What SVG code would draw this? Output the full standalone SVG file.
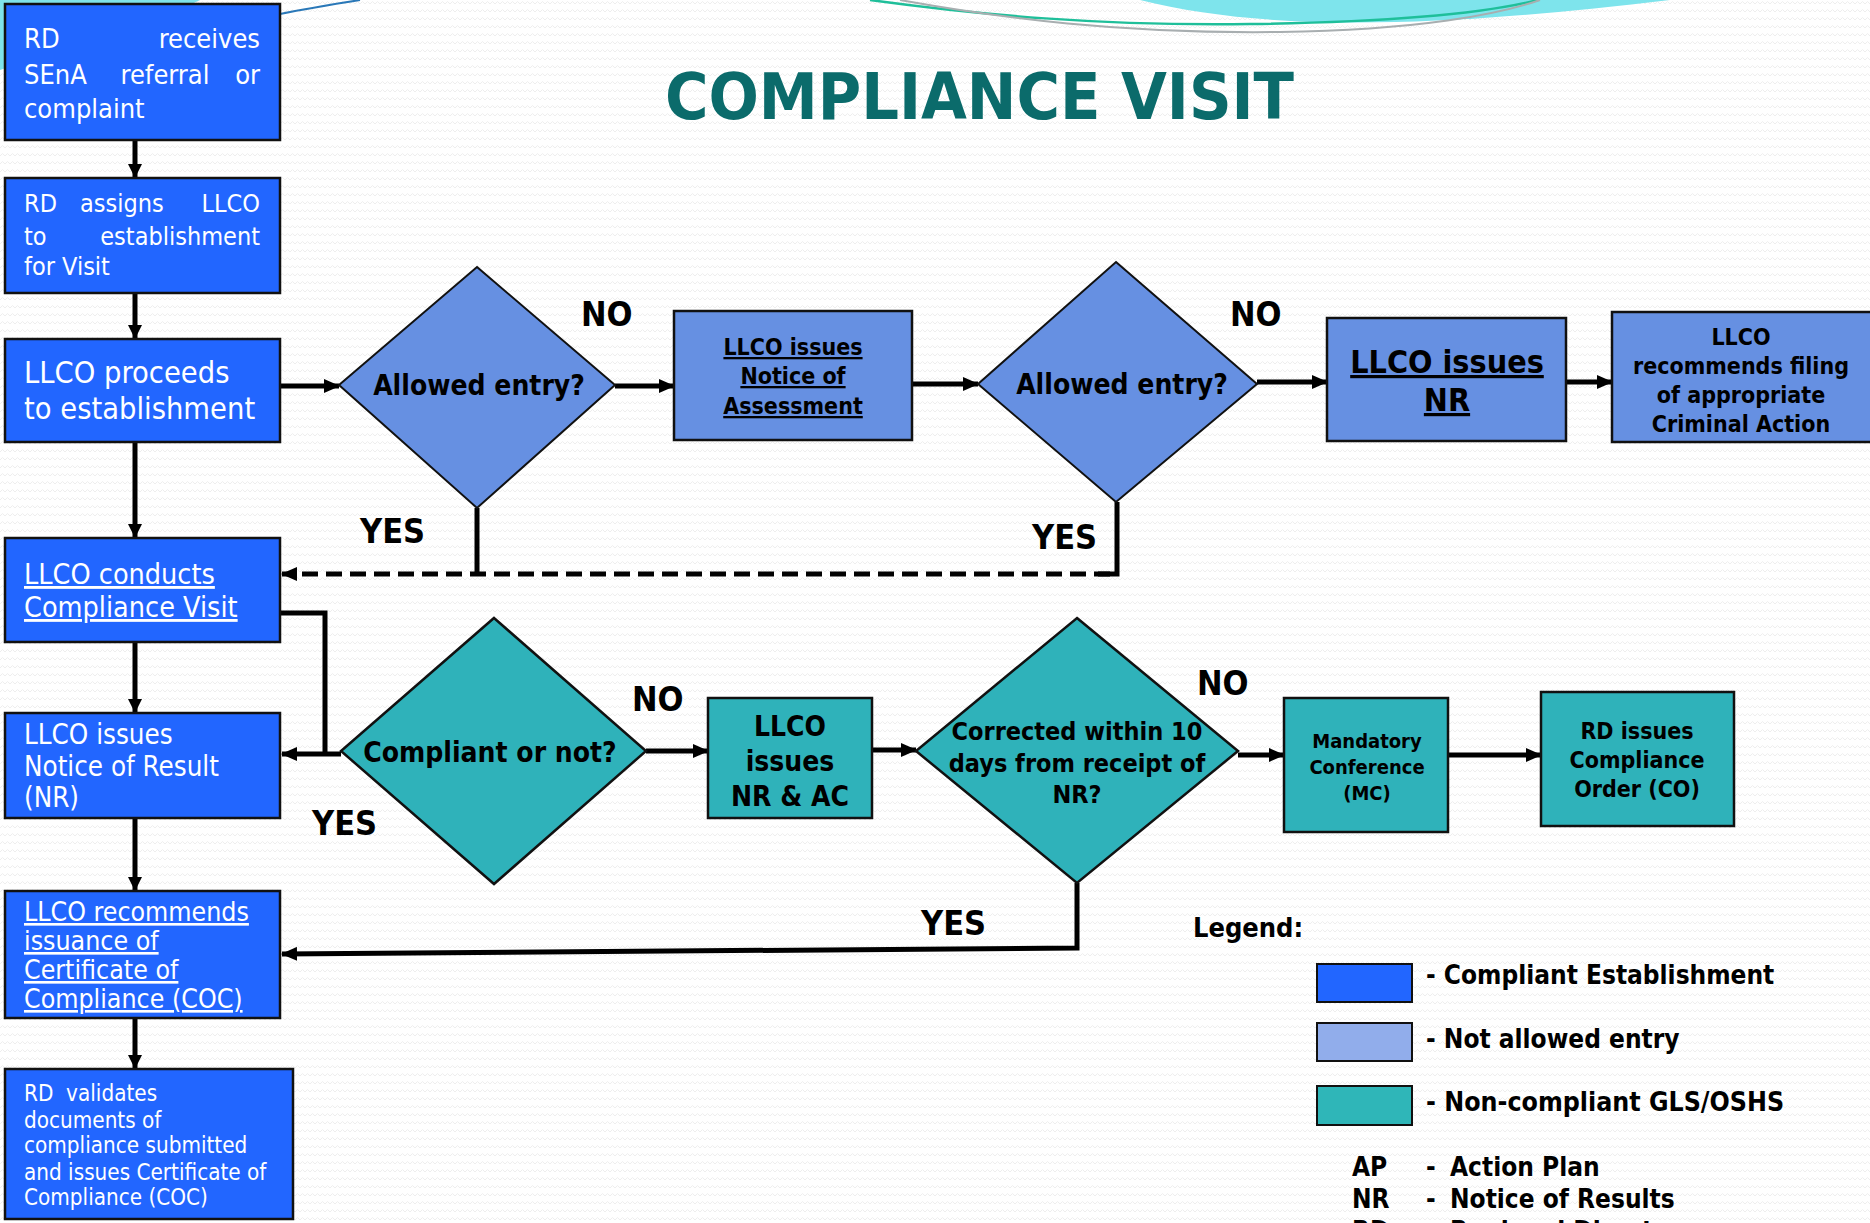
<svg xmlns="http://www.w3.org/2000/svg" width="1870" height="1223" viewBox="0 0 1870 1223">
<defs>
<pattern id="bgz" width="10" height="8" patternUnits="userSpaceOnUse">
<path d="M0,4 L2.5,1.5 L5,4 L7.5,1.5 L10,4" fill="none" stroke="#eeeeee" stroke-width="1"/>
</pattern>
<marker id="ah" markerWidth="16" markerHeight="14" refX="15" refY="7" orient="auto" markerUnits="userSpaceOnUse">
<path d="M0,0 L16,7 L0,14 z" fill="#000"/>
</marker>
<marker id="ahs" markerWidth="14" markerHeight="14" refX="13" refY="7" orient="auto" markerUnits="userSpaceOnUse">
<path d="M0,0 L14,7 L0,14 z" fill="#000"/>
</marker>
</defs>
<style>
.t{font-family:"Liberation Sans Narrow","DejaVu Sans Condensed","Liberation Sans",sans-serif;}
.w{fill:#fff;}
.k{fill:#000;}
.b{font-weight:bold;}
.u{text-decoration:underline;}
.mid{text-anchor:middle;}
.end{text-anchor:end;}
.blue{fill:#2266ff;stroke:#111;stroke-width:2.5;}
.na{fill:#6690e2;stroke:#111;stroke-width:2.5;}
.na2{fill:#6690e2;stroke:#111;stroke-width:2;}
.tl{fill:#2fb2ba;stroke:#111;stroke-width:2.5;}
.c{fill:none;stroke:#000;stroke-width:5;}
.lab{font-size:34px;font-weight:bold;}
</style>
<rect width="1870" height="1223" fill="#fff"/>
<rect width="1870" height="1223" fill="url(#bgz)"/>
<g id="decor">
<path d="M0,0 L200,0 C150,25 60,50 0,70 Z" fill="#7fe3ea"/>
<path d="M1140,0 C1260,30 1420,30 1670,0 Z" fill="#7ee4ec"/>
<path d="M870,0 C980,15 1100,26 1250,24 C1400,22 1490,12 1538,0" fill="none" stroke="#1fbf9a" stroke-width="2.5"/>
<path d="M900,0 C1000,18 1120,34 1280,32 C1420,30 1500,14 1540,0" fill="none" stroke="#a8aeb0" stroke-width="2"/>
<path d="M280,14 C310,8 335,4 360,0" fill="none" stroke="#2a78b8" stroke-width="2"/>
</g>
<text class="t b" x="665" y="119" font-size="64" fill="#0b6b6b" textLength="629" lengthAdjust="spacingAndGlyphs">COMPLIANCE VISIT</text>

<g id="connectors">
<line class="c" x1="135" y1="140" x2="135" y2="177" marker-end="url(#ahs)"/>
<line class="c" x1="135" y1="293" x2="135" y2="338" marker-end="url(#ahs)"/>
<line class="c" x1="135" y1="442" x2="135" y2="537" marker-end="url(#ahs)"/>
<line class="c" x1="135" y1="642" x2="135" y2="712" marker-end="url(#ahs)"/>
<line class="c" x1="135" y1="818" x2="135" y2="890" marker-end="url(#ahs)"/>
<line class="c" x1="135" y1="1018" x2="135" y2="1068" marker-end="url(#ahs)"/>
<line class="c" x1="280" y1="386" x2="339" y2="386" marker-end="url(#ah)"/>
<line class="c" x1="615" y1="386" x2="674" y2="386" marker-end="url(#ah)"/>
<line class="c" x1="912" y1="384" x2="978" y2="384" marker-end="url(#ah)"/>
<line class="c" x1="1257" y1="382" x2="1327" y2="382" marker-end="url(#ah)"/>
<line class="c" x1="1566" y1="382" x2="1612" y2="382" marker-end="url(#ah)"/>
<path class="c" d="M477,508 L477,574"/>
<path class="c" d="M1117,502 L1117,574 L1098,574"/>
<line class="c" x1="1110" y1="574" x2="282" y2="574" stroke-dasharray="16,8" marker-end="url(#ah)"/>
<path class="c" d="M280,613 L325,613 L325,754"/>
<line class="c" x1="341" y1="754" x2="282" y2="754" marker-end="url(#ah)"/>
<line class="c" x1="646" y1="751" x2="708" y2="751" marker-end="url(#ah)"/>
<line class="c" x1="872" y1="750" x2="916" y2="750" marker-end="url(#ah)"/>
<line class="c" x1="1238" y1="755" x2="1284" y2="755" marker-end="url(#ah)"/>
<line class="c" x1="1448" y1="755" x2="1541" y2="755" marker-end="url(#ah)"/>
<path class="c" d="M1077,883 L1077,948 L282,954" marker-end="url(#ah)"/>
</g>

<g id="n1"><rect class="blue" x="5" y="4" width="275" height="136"/>
<text class="t w" font-size="27"><tspan x="24" y="48">RD</tspan><tspan x="260" y="48" text-anchor="end">receives</tspan></text>
<text class="t w" font-size="27"><tspan x="24" y="84">SEnA</tspan><tspan x="165" y="84" text-anchor="middle">referral</tspan><tspan x="260" y="84" text-anchor="end">or</tspan></text>
<text class="t w" font-size="27" x="24" y="118">complaint</text></g>

<g id="n2"><rect class="blue" x="5" y="178" width="275" height="115"/>
<text class="t w" font-size="25"><tspan x="24" y="212">RD</tspan><tspan x="80" y="212">assigns</tspan><tspan x="260" y="212" text-anchor="end">LLCO</tspan></text>
<text class="t w" font-size="25"><tspan x="24" y="245">to</tspan><tspan x="260" y="245" text-anchor="end">establishment</tspan></text>
<text class="t w" font-size="25" x="24" y="275">for Visit</text></g>

<g id="n3"><rect class="blue" x="5" y="339" width="275" height="103"/>
<text class="t w" font-size="30.5" x="24" y="383">LLCO proceeds</text>
<text class="t w" font-size="30.5" x="24" y="419">to establishment</text></g>

<g id="n4"><rect class="blue" x="5" y="538" width="275" height="104"/>
<text class="t w u" font-size="28.5" x="24" y="584">LLCO conducts</text>
<text class="t w u" font-size="28.5" x="24" y="617">Compliance Visit</text></g>

<g id="n5"><rect class="blue" x="5" y="713" width="275" height="105"/>
<text class="t w" font-size="27.5" x="24" y="744">LLCO issues</text>
<text class="t w" font-size="27.5" x="24" y="776">Notice of Result</text>
<text class="t w" font-size="27.5" x="24" y="807">(NR)</text></g>

<g id="n6"><rect class="blue" x="5" y="891" width="275" height="127"/>
<text class="t w u" font-size="26.5" x="24" y="921">LLCO recommends</text>
<text class="t w u" font-size="26.5" x="24" y="950">issuance of</text>
<text class="t w u" font-size="26.5" x="24" y="979">Certificate of</text>
<text class="t w u" font-size="26.5" x="24" y="1008">Compliance (COC)</text></g>

<g id="n7"><rect class="blue" x="5" y="1069" width="288" height="150"/>
<text class="t w" font-size="22.3" x="24" y="1101">RD&#160; validates</text>
<text class="t w" font-size="22.3" x="24" y="1128">documents of</text>
<text class="t w" font-size="22.3" x="24" y="1153">compliance submitted</text>
<text class="t w" font-size="22.3" x="24" y="1180">and issues Certificate of</text>
<text class="t w" font-size="22.3" x="24" y="1205">Compliance (COC)</text></g>

<g id="d1"><polygon class="na2" points="477,267 615,385 477,508 339,385"/>
<text class="t k b mid" font-size="28" x="479" y="395">Allowed entry?</text></g>

<g id="n8"><rect class="na" x="674" y="311" width="238" height="129"/>
<text class="t k b mid u" font-size="23" x="793" y="355">LLCO issues</text>
<text class="t k b mid u" font-size="23" x="793" y="384">Notice of</text>
<text class="t k b mid u" font-size="23" x="793" y="414">Assessment</text></g>

<g id="d2"><polygon class="na2" points="1116,262 1257,384 1116,502 978,384"/>
<text class="t k b mid" font-size="28" x="1122" y="394">Allowed entry?</text></g>

<g id="n9"><rect class="na" x="1327" y="318" width="239" height="123"/>
<text class="t k b mid u" font-size="32" x="1447" y="373">LLCO issues</text>
<text class="t k b mid u" font-size="32" x="1447" y="411">NR</text></g>

<g id="n10"><rect class="na" x="1612" y="312" width="262" height="130"/>
<text class="t k b mid" font-size="23" x="1741" y="345">LLCO</text>
<text class="t k b mid" font-size="23" x="1741" y="374">recommends filing</text>
<text class="t k b mid" font-size="23" x="1741" y="403">of appropriate</text>
<text class="t k b mid" font-size="23" x="1741" y="432">Criminal Action</text></g>

<g id="d3"><polygon class="tl" points="494,618 646,751 494,884 341,751"/>
<text class="t k b mid" font-size="28" x="490" y="762">Compliant or not?</text></g>

<g id="n11"><rect class="tl" x="708" y="698" width="164" height="120"/>
<text class="t k b mid" font-size="28" x="790" y="736">LLCO</text>
<text class="t k b mid" font-size="28" x="790" y="771">issues</text>
<text class="t k b mid" font-size="28" x="790" y="806">NR &amp; AC</text></g>

<g id="d4"><polygon class="tl" points="1077,618 1238,751 1077,883 916,751"/>
<text class="t k b mid" font-size="25" x="1077" y="740">Corrected within 10</text>
<text class="t k b mid" font-size="25" x="1077" y="772">days from receipt of</text>
<text class="t k b mid" font-size="25" x="1077" y="803">NR?</text></g>

<g id="n12"><rect class="tl" x="1284" y="698" width="164" height="134"/>
<text class="t k b mid" font-size="20" x="1367" y="748">Mandatory</text>
<text class="t k b mid" font-size="20" x="1367" y="774">Conference</text>
<text class="t k b mid" font-size="20" x="1367" y="800">(MC)</text></g>

<g id="n13"><rect class="tl" x="1541" y="692" width="193" height="134"/>
<text class="t k b mid" font-size="23" x="1637" y="739">RD issues</text>
<text class="t k b mid" font-size="23" x="1637" y="768">Compliance</text>
<text class="t k b mid" font-size="23" x="1637" y="797">Order (CO)</text></g>

<g id="labels">
<text class="t k lab" x="581" y="326">NO</text>
<text class="t k lab" x="1230" y="326">NO</text>
<text class="t k lab" x="360" y="543">YES</text>
<text class="t k lab" x="1032" y="549">YES</text>
<text class="t k lab" x="632" y="711">NO</text>
<text class="t k lab" x="312" y="835">YES</text>
<text class="t k lab" x="1197" y="695">NO</text>
<text class="t k lab" x="921" y="935">YES</text>
</g>

<g id="legend">
<text class="t k b" font-size="27" x="1193" y="937">Legend:</text>
<rect x="1317" y="964" width="95" height="38" fill="#2266ff" stroke="#111" stroke-width="2"/>
<rect x="1317" y="1023" width="95" height="38" fill="#91adeb" stroke="#111" stroke-width="2"/>
<rect x="1317" y="1086" width="95" height="39" fill="#2fb6b8" stroke="#111" stroke-width="2"/>
<text class="t k b" font-size="26" x="1426" y="984">- Compliant Establishment</text>
<text class="t k b" font-size="26" x="1426" y="1048">- Not allowed entry</text>
<text class="t k b" font-size="26.5" x="1426" y="1111">- Non-compliant GLS/OSHS</text>
<text class="t k b" font-size="26" x="1352" y="1176">AP</text>
<text class="t k b" font-size="26" x="1426" y="1176">-</text>
<text class="t k b" font-size="26" x="1450" y="1176">Action Plan</text>
<text class="t k b" font-size="26" x="1352" y="1208">NR</text>
<text class="t k b" font-size="26" x="1426" y="1208">-</text>
<text class="t k b" font-size="26" x="1450" y="1208">Notice of Results</text>
<text class="t k b" font-size="26" x="1352" y="1240">RD</text>
<text class="t k b" font-size="26" x="1426" y="1240">-</text>
<text class="t k b" font-size="26" x="1450" y="1240">Regional Director</text>
</g>
</svg>
